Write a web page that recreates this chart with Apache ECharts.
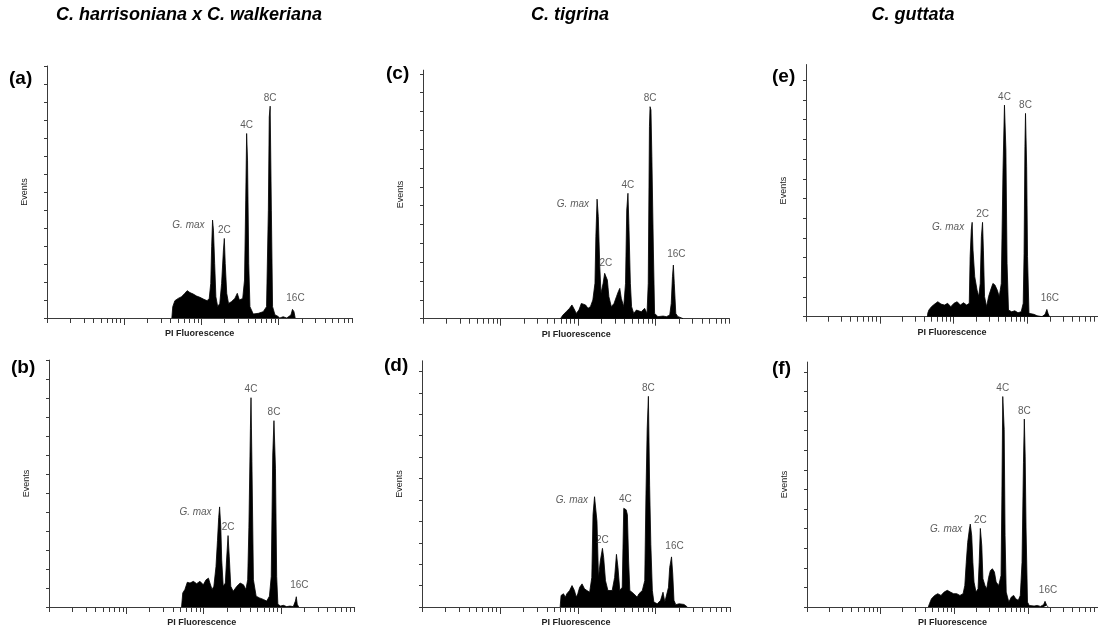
<!DOCTYPE html>
<html><head><meta charset="utf-8">
<script src="https://cdn.jsdelivr.net/npm/echarts@6/dist/echarts.min.js"></script>
<style>html,body{margin:0;padding:0;background:#fff}#c{width:1098px;height:628px}</style>
</head><body><div id="c"></div>
<script>
// ---------- text ----------
const speciesTitles = ['C. harrisoniana x C. walkeriana', 'C. tigrina', 'C. guttata'];
const panelLetters = ['(a)', '(b)', '(c)', '(d)', '(e)', '(f)'];
const xAxisName = 'PI Fluorescence';
const yAxisName = 'Events';
// log-scale tick values (fluorescence units), 256 channels per decade
const fluorescenceTicks = [1,2,3,4,5,6,7,8,9,10,20,30,40,50,60,70,80,90,100,200,300,400,500,600,700,800,900,1000,2000,3000,4000,5000,6000,7000,8000,9000];
const decadeTicks = [10, 100, 1000];
const eventTicks = [0,10,20,30,40,50,60,70,80,90,100,110,120,130,140];

// ---------- data: channel (log scale, 256/decade) and events ----------
const aChannel = [414,417,424,435,446,457,465,474,485,496,507,520,531,538,543,546,549,552,556,560,566,573,579,585,588,591,596,602,612,623,631,638,649,655,659,662,665,669,673,684,701,717,728,734,737,740,744,748,756,764,772,783,795,809,814,819,823];
const aEvents  = [0,6.3,9.6,10.9,11.8,13.7,15.2,14.1,13.3,12.2,11.5,10.4,9.6,10.9,19.2,39.6,54.4,48.8,30.3,11.8,6.3,8.1,19.2,37.7,44.2,30.3,13.7,8.1,9.1,10.9,13.7,10,10.9,21.1,65.5,102.5,87.7,30.3,6.3,2.2,2.6,3.5,6.3,59.9,111.7,117.7,59.9,6.3,1.7,1.1,0,0.7,0,1.7,4.8,3.5,0];
const aPeaks = [['G. max',549,54.4],['2C',588,44.2],['4C',662,102.5],['8C',740,117.7],['16C',814,4.8]];

const bChannel = [439,443,450,458,467,478,489,500,511,520,528,533,540,546,553,558,562,565,569,572,577,584,588,593,597,602,610,622,633,644,652,658,662,667,669,672,677,686,697,710,721,730,736,741,745,750,754,758,767,776,787,798,809,816,819,822,827];
const bEvents  = [0,7.4,9.2,13,12.6,13.5,12.3,13.5,11.7,14.3,15.2,12.6,9.2,10.9,21.2,35.1,47.1,52.7,42,24.7,10.9,12.6,24.7,37.6,26.4,10.9,8.3,10.9,12.6,11.7,9.2,14.3,42,93.8,110.2,76.5,14.3,5.7,4.8,4,3.1,5.7,16.1,80,98.1,73.1,16.1,1.4,0.5,0.9,0.2,0.5,0.2,3.1,5.4,1.4,0];
const bPeaks = [['G. max',565,52.7],['2C',593,37.6],['4C',669,110.2],['8C',745,98.1],['16C',819,5.4]];

const cChannel = [454,462,473,484,492,501,506,515,523,528,537,545,553,561,568,571,575,579,584,588,595,600,604,609,614,622,631,639,645,650,655,663,669,673,677,680,685,689,696,705,721,732,740,744,748,750,753,756,761,765,776,793,804,815,820,824,827,830,835,842,853,859];
const cEvents  = [0,1.9,3.7,5.5,7.3,4.6,2.8,4.6,8.1,9,7.3,5.5,6.4,9.9,18.8,43.5,63.5,54.2,27.6,13.5,18.8,24.1,25,20.5,11.7,6.4,8.1,11.7,14.3,16.1,10.8,6.4,18.8,57.7,66.6,50.6,18.8,6.4,2.8,4.6,3.7,5.5,2.8,18.8,102,112.6,110.8,86,36.5,2.8,1.1,1.4,1.1,1.9,8.1,22.3,28.5,18.8,2.8,1.1,0.5,0];
const cPeaks = [['G. max',575,63.5],['2C',604,25],['4C',677,66.6],['8C',750,112.6],['16C',827,28.5]];

const dChannel = [454,457,465,471,476,485,493,501,507,512,518,526,534,542,551,558,562,567,572,575,580,586,593,597,603,611,625,633,639,644,650,658,663,668,671,675,679,683,696,702,707,713,724,732,736,740,744,748,752,757,762,773,784,792,798,810,814,820,824,828,834,845,861,872];
const dEvents  = [0,5.4,6.2,4.6,6.2,7.7,10,7.7,4.6,6.2,9.2,10.8,8.5,7.7,6.9,13.8,43.1,51.5,52.3,40,13.8,21.5,27.4,23.1,12.3,7.7,7.7,13.8,24.6,18.5,7.7,9.2,46.1,46.4,45.4,43.1,21.5,7.7,6.2,6.9,4.6,6.2,7.7,12.3,52.3,83.1,98.4,56.9,29.2,7.7,2.3,1.5,3.1,6.9,2.3,9.2,18.5,23.4,15.4,3.1,1.1,1.5,1.2,0];
const dPeaks = [['G. max',572,52.3],['2C',593,27.4],['4C',668,46.4],['8C',744,98.4],['16C',820,23.4]];

const eChannel = [421,422,426,435,446,457,468,480,491,502,513,524,535,546,557,566,569,573,576,579,585,593,599,604,608,612,615,619,626,633,640,648,655,663,670,677,683,688,693,697,702,713,724,735,746,753,756,759,761,765,768,773,779,790,801,818,829,835,839,844];
const eEvents  = [0,1.7,3.4,5.1,6.4,7.6,6.4,5.9,6.8,5.1,6.8,7.6,5.9,7.1,5.9,6.8,30.5,44,47.9,33.8,20.3,13.5,10.2,16.9,40.6,47.9,33.8,10.2,5.1,10.2,13.5,16.9,16.1,13.5,10.2,16.9,74.4,107.4,84.6,27.1,3.4,2.5,3,2,2.5,6.8,32.1,86.3,103.2,76.1,30.5,1.7,0.8,1.2,0.5,0,1.2,3.7,1.7,0];
const ePeaks = [['G. max',576,47.9],['2C',612,47.9],['4C',688,107.4],['8C',761,103.2],['16C',835,3.7]];

const fChannel = [422,426,433,444,455,466,477,488,499,510,521,532,543,549,554,559,565,568,573,577,581,588,595,599,603,608,612,619,625,632,638,645,652,658,667,675,678,681,686,689,693,702,711,719,726,735,742,748,753,756,759,762,767,773,790,801,812,823,828,834,839];
const fEvents  = [0,1.7,4.2,5.9,6.8,5.9,7.6,8.5,7.6,6.8,6.8,5.9,6.8,11,22.8,33,39.8,42.3,36.4,22.8,12.7,7.6,9.3,22.8,40.1,31.3,14.4,11,9.3,15.2,18.6,19.5,17.8,12.7,11,16.1,56.7,107.4,90.5,36.4,7.6,2.5,5.1,5.9,4.2,3.4,5.9,22.8,73.6,95.9,77,39.8,2.5,0.8,0.5,0.8,0.3,1.2,2.9,0.8,0];
const fPeaks = [['G. max',568,42.3],['2C',603,40.1],['4C',681,107.4],['8C',756,95.9],['16C',828,2.9]];

const panelData = [
  [aChannel, aEvents, aPeaks], [bChannel, bEvents, bPeaks],
  [cChannel, cEvents, cPeaks], [dChannel, dEvents, dPeaks],
  [eChannel, eEvents, ePeaks], [fChannel, fEvents, fPeaks]
];

// ---------- layout (pixels) ----------
const layout = [
  {left: 47,  base: 318,   decade: 77.2, tick: 18.0,  yMax: 140, letter: [9, 79]},
  {left: 49,  base: 611,   decade: 77.3, tick: 19.3,  yMax: 130, letter: [11, 368]},
  {left: 423, base: 318.7, decade: 77.5, tick: 18.83, yMax: 132, letter: [386, 74]},
  {left: 422, base: 610,   decade: 77.9, tick: 21.67, yMax: 115, letter: [384, 366]},
  {left: 806, base: 316.7, decade: 76.9, tick: 19.7,  yMax: 128, letter: [772, 77]},
  {left: 807, base: 608.3, decade: 77.8, tick: 19.7,  yMax: 125, letter: [772, 369]}
];
const titlePos = [[189, 15], [570, 15], [913, 15]];

const toChannel = v => 256 * Math.log10(v);
const tickChannels = fluorescenceTicks.map(toChannel);
const decadeChannels = decadeTicks.map(toChannel);
const xMax = toChannel(9000) + 0.01;
const axisColor = '#3a3a3a';
const FONT = 'Liberation Sans, Arial, sans-serif';

const grid = [], xAxis = [], yAxis = [], series = [], graphic = [];
layout.forEach((L, i) => {
  const height = L.yMax / 10 * L.tick;
  const width = xMax / 256 * L.decade;
  grid.push({left: L.left, top: L.base - height, width: width, height: height, containLabel: false});
  xAxis.push({
    type: 'value', gridIndex: i, min: 0, max: xMax,
    axisLine: {show: true, onZero: false, lineStyle: {color: axisColor, width: 1}},
    axisTick: {show: true, customValues: tickChannels, length: 5, inside: false, lineStyle: {color: axisColor, width: 1}},
    axisLabel: {show: false}, splitLine: {show: false},
    name: xAxisName, nameLocation: 'middle', nameGap: 11,
    nameTextStyle: {fontSize: 9, fontWeight: 'bold', fontFamily: FONT, color: '#222'}
  });
  xAxis.push({
    type: 'value', gridIndex: i, min: 0, max: xMax, position: 'bottom',
    axisLine: {show: false},
    axisTick: {show: true, customValues: decadeChannels, length: 7, inside: false, lineStyle: {color: axisColor, width: 1}},
    axisLabel: {show: false}, splitLine: {show: false}
  });
  yAxis.push({
    type: 'value', gridIndex: i, min: 0, max: L.yMax,
    axisLine: {show: true, onZero: false, lineStyle: {color: axisColor, width: 1}},
    axisTick: {show: true, customValues: eventTicks.filter(v => v <= L.yMax), length: 3, inside: false, lineStyle: {color: axisColor, width: 1}},
    axisLabel: {show: false}, splitLine: {show: false},
    name: yAxisName, nameLocation: 'middle', nameGap: 18, nameRotate: 90,
    nameTextStyle: {fontSize: 9, fontFamily: FONT, color: '#222'}
  });
  const [ch, ev, peaks] = panelData[i];
  series.push({
    type: 'line', xAxisIndex: 2 * i, yAxisIndex: i,
    data: ch.map((c, k) => [c, ev[k]]),
    symbol: 'none', smooth: false,
    lineStyle: {color: '#000', width: 0.8},
    areaStyle: {color: '#000', opacity: 1},
    z: 2
  });
  series.push({
    type: 'scatter', xAxisIndex: 2 * i, yAxisIndex: i, symbolSize: 0,
    silent: true, z: 5,
    data: peaks.map(p => {
      const isG = p[0] === 'G. max';
      return {
        value: [p[1], p[2]], name: p[0],
        label: {
          show: true, formatter: p[0],
          position: isG ? 'left' : 'top',
          distance: isG ? 8 : 3,
          offset: isG ? [0, 5] : (p[0] === '16C' ? [3, -3] : [0, 0]),
          fontSize: 10, fontFamily: FONT, color: '#333',
          fontStyle: isG ? 'italic' : 'normal'
        }
      };
    })
  });
  graphic.push({
    type: 'text', x: L.letter[0], y: L.letter[1],
    style: {text: panelLetters[i], font: 'bold 19px ' + FONT, fill: '#000', align: 'left', verticalAlign: 'middle'}
  });
});
speciesTitles.forEach((t, j) => {
  graphic.push({
    type: 'text', x: titlePos[j][0], y: titlePos[j][1],
    style: {text: t, font: 'italic bold 18px ' + FONT, fill: '#000', align: 'center', verticalAlign: 'middle'}
  });
});

const chart = echarts.init(document.getElementById('c'), null, {renderer: 'canvas'});
chart.setOption({
  animation: false,
  backgroundColor: '#fff',
  grid, xAxis, yAxis, series, graphic
});
</script>
</body></html>
